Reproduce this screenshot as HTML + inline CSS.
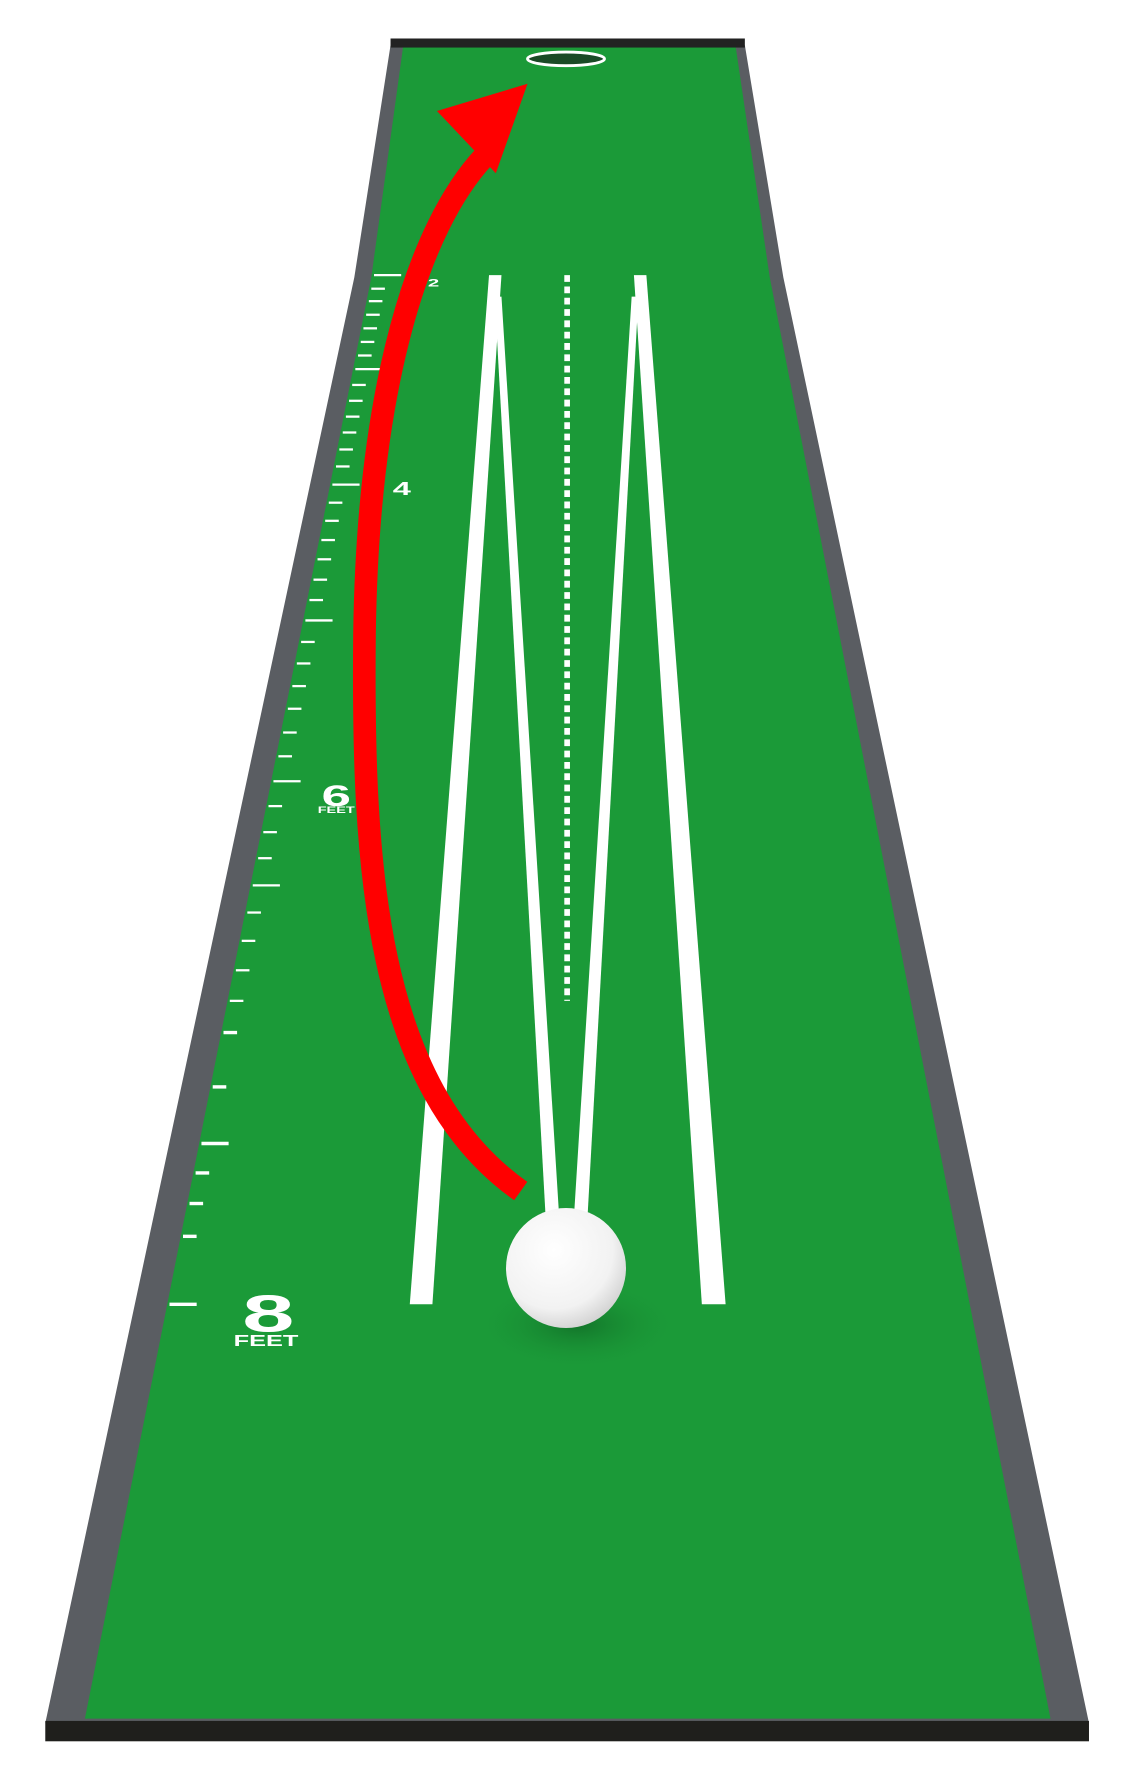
<!DOCTYPE html>
<html><head><meta charset="utf-8"><style>
html,body{margin:0;padding:0;background:#fff;}
svg{display:block;}
</style></head><body>
<svg width="1132" height="1773" viewBox="0 0 1000 1566" preserveAspectRatio="none" xmlns="http://www.w3.org/2000/svg">
<defs>
<radialGradient id="ball" cx="0.4" cy="0.35" r="0.7"><stop offset="0" stop-color="#ffffff"/><stop offset="0.7" stop-color="#f2f2f2"/><stop offset="1" stop-color="#cfcfcf"/></radialGradient>
<radialGradient id="shadow" cx="0.5" cy="0.5" r="0.5"><stop offset="0" stop-color="#0d5a20" stop-opacity="0.6"/><stop offset="1" stop-color="#1b9a38" stop-opacity="0"/></radialGradient>
</defs>
<polygon points="345,40 658,40 692,245 962,1522 40,1522 313,245" fill="#5a5d62"/>
<polygon points="356,42 650,42 680,245 928,1518 75,1518 328,245" fill="#1b9a38"/>
<rect x="345" y="34" width="313" height="8" fill="#222"/>
<rect x="40" y="1520" width="922" height="18" fill="#1f1f1c"/>
<ellipse cx="500" cy="52" rx="34" ry="6" fill="#1a4a26" stroke="#fff" stroke-width="2.5"/>
<g id="ticks"></g>
<text x="0" y="0" transform="translate(237,1176) scale(1.8,1)" font-family="Liberation Sans, sans-serif" font-weight="bold" font-size="46" fill="#fff" text-anchor="middle">8</text>
<text x="0" y="0" transform="translate(235,1189) scale(1.6,1)" font-family="Liberation Sans, sans-serif" font-weight="bold" font-size="14" fill="#fff" text-anchor="middle">FEET</text>
<text x="0" y="0" transform="translate(297,712) scale(1.8,1)" font-family="Liberation Sans, sans-serif" font-weight="bold" font-size="26" fill="#fff" text-anchor="middle">6</text>
<text x="0" y="0" transform="translate(297,718) scale(1.6,1)" font-family="Liberation Sans, sans-serif" font-weight="bold" font-size="8" fill="#fff" text-anchor="middle">FEET</text>
<text x="0" y="0" transform="translate(355,437) scale(1.8,1)" font-family="Liberation Sans, sans-serif" font-weight="bold" font-size="16" fill="#fff" text-anchor="middle">4</text>
<text x="0" y="0" transform="translate(383,253) scale(1.8,1)" font-family="Liberation Sans, sans-serif" font-weight="bold" font-size="10" fill="#fff" text-anchor="middle">2</text>
<polygon points="432,243 443,243 382,1152 362,1152" fill="#fff"/>
<polygon points="437,262 443,262 494,1075 482,1075" fill="#fff"/>
<polygon points="558,262 564,262 519,1075 507,1075" fill="#fff"/>
<polygon points="560,243 571,243 641,1152 620,1152" fill="#fff"/>
<line x1="501" y1="243" x2="501" y2="884" stroke="#fff" stroke-width="5" stroke-dasharray="6,4"/>
<ellipse cx="510" cy="1170" rx="90" ry="40" fill="url(#shadow)"/>
<circle cx="500" cy="1120" r="53" fill="url(#ball)"/>
<path d="M460,1052 C330,960 320,760 322,560 C325,340 370,200 428,138" fill="none" stroke="#ff0000" stroke-width="20"/>
<polygon points="466,74 386,98 438,153" fill="#ff0000"/>
</svg>
<script>
const tickYs=[243,255,266,278,290,302,314,326,340,354,368,382,397,412,428,444,460,477,494,512,530,548,567,586,606,626,647,668,690,712,735,758,782,806,831,857,884,912,960,1010,1036,1063,1092,1152];
const majorYs=[243,326,428,548,690,786,890,1010,1152];
const g=document.getElementById('ticks');
function edgeX(y){return 328-(y-245)*253/1273;}
tickYs.forEach(function(y){
  const l=document.createElementNS('http://www.w3.org/2000/svg','line');
  
  
  const x0=edgeX(y)+2;
  const major=majorYs.some(function(m){return Math.abs(m-y)<6;});
  l.setAttribute('x1',x0);l.setAttribute('x2',x0+(major?24:12));
  l.setAttribute('y1',y);l.setAttribute('y2',y);
  l.setAttribute('stroke','#fff');l.setAttribute('stroke-width',y>900?3:2);
  g.appendChild(l);
});
</script>
</body></html>
